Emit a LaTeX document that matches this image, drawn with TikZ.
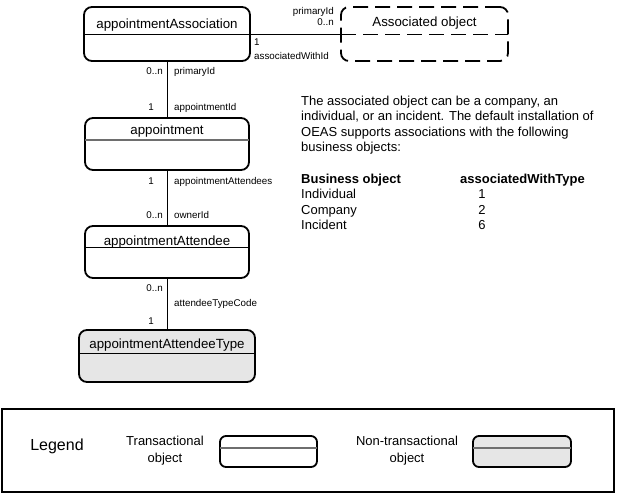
\documentclass[tikz,border=0pt]{standalone}
\usepackage{fontspec}
\setmainfont{Liberation Sans}
\definecolor{boxgray}{HTML}{E6E6E6}
\definecolor{divgray}{HTML}{6E6E6E}
\begin{document}
\begin{tikzpicture}[x=1pt,y=-1pt,
  box/.style={draw, line width=1.8pt, rounded corners=8pt, inner sep=0pt, outer sep=0pt},
  dbox/.style={box, dash pattern=on 15pt off 7pt},
  ntbox/.style={box, fill=boxgray},
  title/.style={inner sep=0pt, anchor=base, font=\fontsize{13.3}{16}\selectfont},
  lab/.style={inner sep=0pt, font=\fontsize{9.8}{12}\selectfont},
  txt/.style={inner sep=0pt, font=\fontsize{13}{15.5}\selectfont},
  conn/.style={draw, line width=0.9pt},
  divk/.style={draw, line width=1pt},
  divg/.style={draw, line width=1.3pt, divgray},
]
\useasboundingbox (0,0) rectangle (617,493);

% ---- boxes ----
\node[box, minimum width=166pt, minimum height=54pt] (assoc) at (167,34) {};
\node[title] (assocT) at (167,28.6) {appointmentAssociation};
\draw[divk] (assoc.west) -- (assoc.east);

\node[dbox, minimum width=167pt, minimum height=54pt] (obj) at (424.5,34) {};
\node[title] (objT) at (424.5,26.8) {Associated object};
\draw[divk, dash pattern=on 15pt off 7pt] (obj.west) -- (obj.east);

\node[box, minimum width=164pt, minimum height=52pt] (appt) at (167,144) {};
\node[title] (apptT) at (167,134.5) {appointment};
\draw[divg] (appt.west |- 0,140) -- (appt.east |- 0,140);

\node[box, minimum width=164pt, minimum height=52pt] (att) at (167,252) {};
\node[title] (attT) at (167,245) {appointmentAttendee};
\draw[divk] (att.west |- 0,247) -- (att.east |- 0,247);

\node[ntbox, minimum width=176pt, minimum height=52pt] (atype) at (167,356) {};
\node[title] (atypeT) at (167,348.5) {appointmentAttendeeType};
\draw[divk] (atype.west |- 0,353) -- (atype.east |- 0,353);

% ---- connectors ----
\draw[conn] (assoc.east) -- (obj.west);
\draw[conn] (assoc.south) -- (appt.north);
\draw[conn] (appt.south) -- (att.north);
\draw[conn] (att.south) -- (atype.north);

% ---- connector labels ----
\node[lab, anchor=mid east] (h1) at (334,12) {primaryId};
\node[lab, anchor=mid east] (h2) at (334,23) {0..n};
\node[lab, anchor=mid west] (h3) at (254,43) {1};
\node[lab, anchor=mid west] (h4) at (254,57) {associatedWithId};

\node[lab, anchor=mid east] (a1) at (163,72) {0..n};
\node[lab, anchor=mid west] (a2) at (174,72) {primaryId};
\node[lab, anchor=mid] (a3) at (151,108) {1};
\node[lab, anchor=mid west] (a4) at (174,108) {appointmentId};

\node[lab, anchor=mid] (b1) at (151,182) {1};
\node[lab, anchor=mid west] (b2) at (174,182) {appointmentAttendees};
\node[lab, anchor=mid east] (b3) at (163,216) {0..n};
\node[lab, anchor=mid west] (b4) at (174,216) {ownerId};

\node[lab, anchor=mid east] (c1) at (163,289) {0..n};
\node[lab, anchor=mid west] (c2) at (174,304) {attendeeTypeCode};
\node[lab, anchor=mid] (c3) at (151,322) {1};

% ---- description ----
\node[txt, anchor=north west, align=left] (desc) at (301,95.5)
  {The associated object can be a company, an\\individual, or an incident. The default installation of\\OEAS supports associations with the following\\business objects:};

\node[txt, anchor=base west, font=\fontsize{13}{15.5}\selectfont\bfseries] (th1) at (301,183) {Business object};
\node[txt, anchor=base west, font=\fontsize{13}{15.5}\selectfont\bfseries] (th2) at (460,183) {associatedWithType};
\node[txt, anchor=base west] (r1a) at (301,198.5) {Individual};
\node[txt, anchor=base] (r1b) at (482,198.5) {1};
\node[txt, anchor=base west] (r2a) at (301,214) {Company};
\node[txt, anchor=base] (r2b) at (482,214) {2};
\node[txt, anchor=base west] (r3a) at (301,229.5) {Incident};
\node[txt, anchor=base] (r3b) at (482,229.5) {6};

% ---- legend ----
\node[draw, line width=1.4pt, minimum width=612pt, minimum height=83pt, inner sep=0pt, outer sep=0pt] (legend) at (308,450.5) {};
\node[inner sep=0pt, font=\fontsize{16}{19}\selectfont] (legendT) at (57,446) {Legend};
\node[inner sep=0pt, align=center, font=\fontsize{13}{17}\selectfont] (trT) at (165,450.5) {Transactional\\object};
\node[box, rounded corners=6pt, minimum width=97pt, minimum height=31pt] (trBox) at (268.5,451.5) {};
\draw[divg] (trBox.west |- 0,448) -- (trBox.east |- 0,448);
\node[inner sep=0pt, align=center, font=\fontsize{13}{17}\selectfont] (ntT) at (407,450.5) {Non-transactional\\object};
\node[ntbox, rounded corners=6pt, minimum width=98pt, minimum height=31pt] (ntBox) at (522,451.5) {};
\draw[divg] (ntBox.west |- 0,448) -- (ntBox.east |- 0,448);
\end{tikzpicture}
\end{document}
